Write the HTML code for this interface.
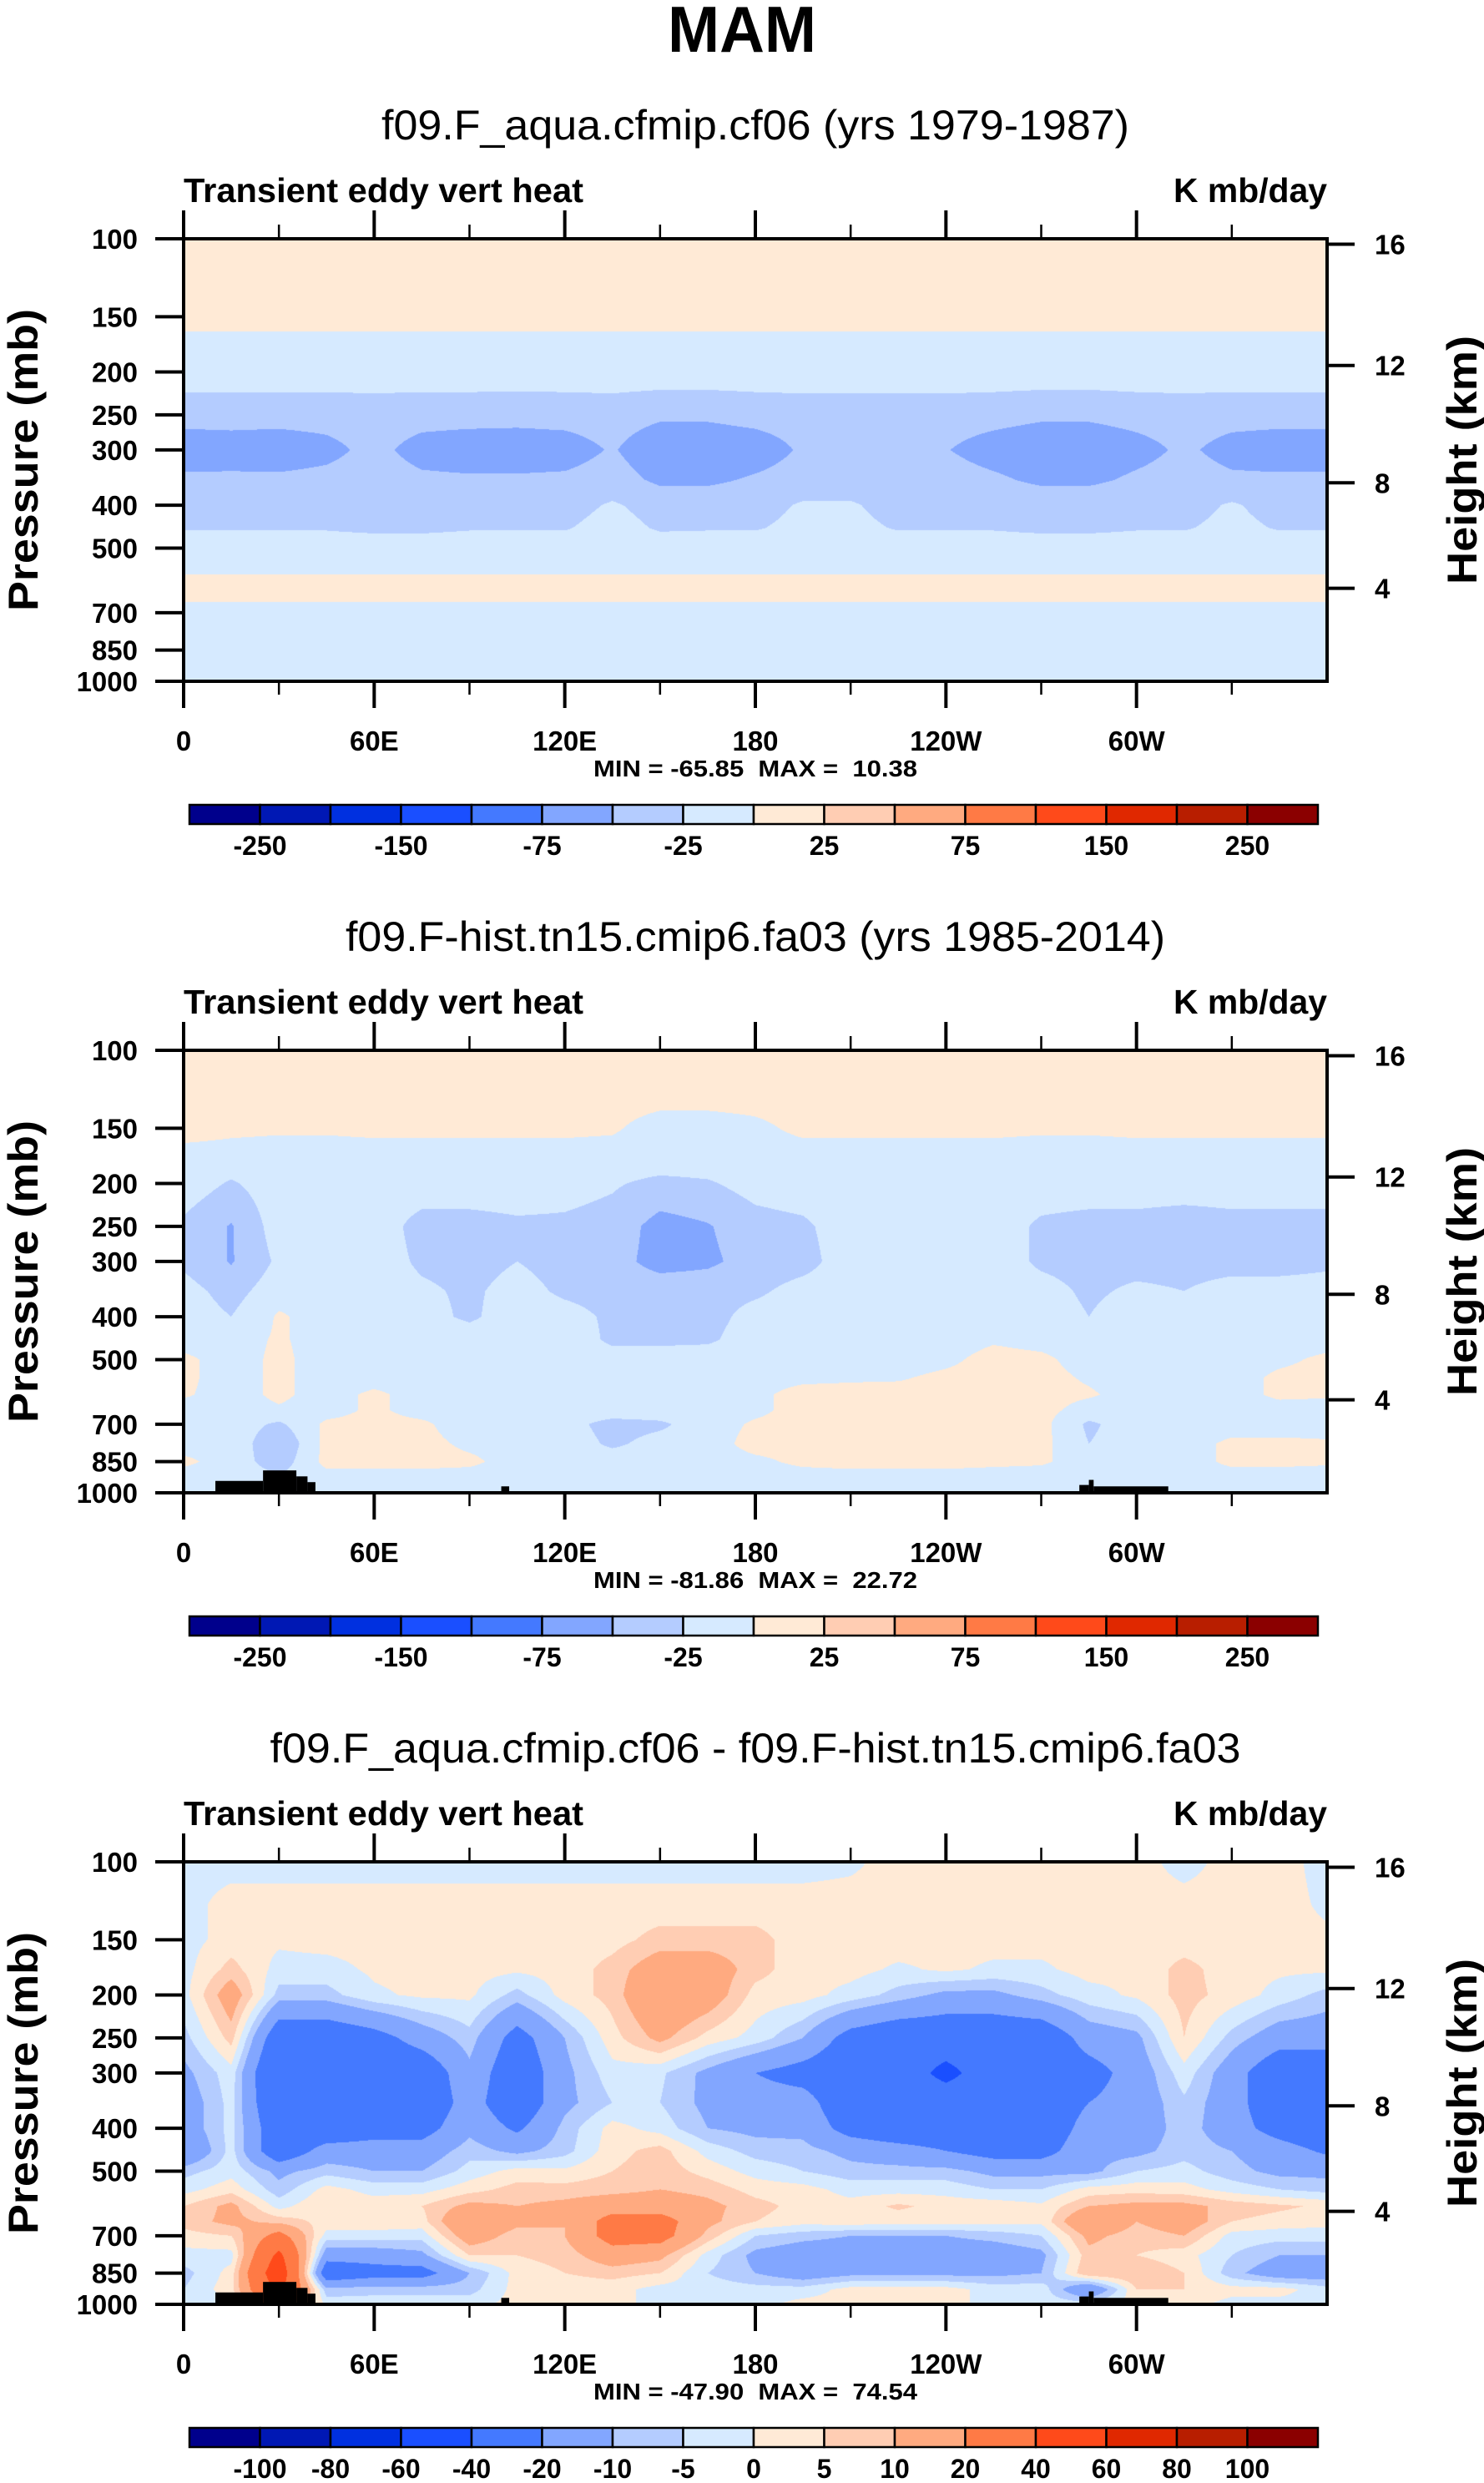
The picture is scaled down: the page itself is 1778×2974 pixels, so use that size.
<!DOCTYPE html>
<html><head><meta charset="utf-8">
<style>
html,body{margin:0;padding:0;background:#fff;}
#wrap{position:relative;width:1778px;height:2974px;overflow:hidden;background:#fff;}
canvas{position:absolute;}
svg{position:absolute;left:0;top:0;}
text{font-family:"Liberation Sans",sans-serif;fill:#000;}
</style></head>
<body>
<div id="wrap">
<canvas id="c0"></canvas>
<canvas id="c1"></canvas>
<canvas id="c2"></canvas>
<svg id="ov" width="1778" height="2974"></svg>
</div>
<script>
// ---------- data ----------
const pLevels = [100,125,150,175,200,250,300,350,400,450,500,550,600,650,700,775,850,925,1000];
const lonCols = [0,15,30,45,60,75,90,105,120,135,150,165,180,195,210,225,240,255,270,285,300,315,330,345,360];
const lonTickVals = [0,60,120,180,240,300];
const lonTickLabels = ["0","60E","120E","180","120W","60W"];
const lonMinorVals = [30,90,150,210,270,330];
const pTickVals = [100,150,200,250,300,400,500,700,850,1000];
const hTickVals = [4,8,12,16];
const levelsAbs = [-250,-200,-150,-100,-75,-50,-25,0,25,50,75,100,150,200,250];
const levelsDiff = [-100,-80,-60,-40,-20,-10,-5,0,5,10,20,40,60,80,100];
const cbLabelsAbs = ["-250","","-150","","-75","","-25","","25","","75","","150","","250"];
const cbLabelsDiff = ["-100","-80","-60","-40","-20","-10","-5","0","5","10","20","40","60","80","100"];
const palette = ["#00008c","#0018b4","#0030e0","#1a4fff","#4479ff","#82a6ff","#b4ccff","#d6eaff","#ffead6","#ffcdb3","#ffaa80","#ff7a45","#ff4a1a","#e02800","#b81e00","#8b0000"];
const titles = ["f09.F_aqua.cfmip.cf06 (yrs 1979-1987)","f09.F-hist.tn15.cmip6.fa03 (yrs 1985-2014)","f09.F_aqua.cfmip.cf06 - f09.F-hist.tn15.cmip6.fa03"];
const titleWidths = [896,982,1163];
const minMax = ["MIN = -65.85  MAX =  10.38","MIN = -81.86  MAX =  22.72","MIN = -47.90  MAX =  74.54"];
const terrainStart = [10,25,35.5,39,100,282,285,286.5];
const terrainEnd   = [25,35.5,39,41.5,102.5,285,286.5,310];
const terrainTop   = [940,890,918,946,967,960,935,967];

const field1 = [
[10,10,10,10,10,10,10,10,10,10,10,10,10,10,10,10,10,10,10,10,10,10,10,10,10],
[10,10,10,10,10,10,10,10,10,10,10,10,10,10,10,10,10,10,10,10,10,10,10,10,10],
[10,10,10,10,10,10,10,10,10,10,10,10,10,10,10,10,10,10,10,10,10,10,10,10,10],
[-10,-10,-10,-10,-10,-10,-10,-10,-10,-10,-10,-10,-10,-10,-10,-10,-10,-10,-10,-10,-10,-10,-10,-10,-10],
[-10,-10,-10,-10,-10,-10,-10,-10,-10,-10,-10,-10,-10,-10,-10,-10,-10,-10,-10,-10,-10,-10,-10,-10,-10],
[-42,-42,-42,-42,-40,-42,-42,-43,-42,-40,-46,-46,-42,-40,-40,-40,-40,-42,-46,-46,-42,-40,-42,-42,-42],
[-62,-60,-62,-56,-44,-58,-62,-62,-60,-48,-66,-66,-62,-47,-49,-47,-49,-60,-66,-66,-58,-46,-58,-62,-62],
[-46,-46,-46,-44,-40,-46,-47,-47,-46,-40,-55,-55,-47,-40,-40,-40,-40,-46,-55,-55,-46,-40,-46,-46,-46],
[-35,-35,-35,-35,-35,-35,-35,-35,-35,-22,-35,-35,-35,-22,-22,-35,-35,-35,-35,-35,-35,-35,-22,-35,-35],
[-27,-27,-27,-27,-30,-30,-27,-27,-27,-15,-28,-27,-27,-18,-18,-27,-27,-27,-30,-30,-27,-27,-18,-27,-27],
[-12,-12,-12,-12,-12,-12,-12,-12,-12,-12,-12,-12,-12,-12,-12,-12,-12,-12,-12,-12,-12,-12,-12,-12,-12],
[-5,-5,-5,-5,-5,-5,-5,-5,-5,-5,-5,-5,-5,-5,-5,-5,-5,-5,-5,-5,-5,-5,-5,-5,-5],
[5,5,5,5,5,5,5,5,5,5,5,5,5,5,5,5,5,5,5,5,5,5,5,5,5],
[3,3,3,3,3,3,3,3,3,3,3,3,3,3,3,3,3,3,3,3,3,3,3,3,3],
[-10,-10,-10,-10,-10,-10,-10,-10,-10,-10,-10,-10,-10,-10,-10,-10,-10,-10,-10,-10,-10,-10,-10,-10,-10],
[-10,-10,-10,-10,-10,-10,-10,-10,-10,-10,-10,-10,-10,-10,-10,-10,-10,-10,-10,-10,-10,-10,-10,-10,-10],
[-10,-10,-10,-10,-10,-10,-10,-10,-10,-10,-10,-10,-10,-10,-10,-10,-10,-10,-10,-10,-10,-10,-10,-10,-10],
[-10,-10,-10,-10,-10,-10,-10,-10,-10,-10,-10,-10,-10,-10,-10,-10,-10,-10,-10,-10,-10,-10,-10,-10,-10],
[-10,-10,-10,-10,-10,-10,-10,-10,-10,-10,-10,-10,-10,-10,-10,-10,-10,-10,-10,-10,-10,-10,-10,-10,-10]
];
const field2 = [
[10,10,10,10,10,10,10,10,10,10,10,10,10,10,10,10,10,10,10,10,10,10,10,10,10],
[10,10,10,10,10,10,10,10,10,10,10,10,10,10,10,10,10,10,10,10,10,10,10,10,10],
[10,5,3,3,5,5,5,5,5,3,-10,-10,-5,5,5,5,5,5,3,3,5,5,5,5,5],
[-10,-10,-10,-10,-10,-10,-10,-10,-10,-10,-10,-10,-10,-10,-10,-10,-10,-10,-10,-10,-10,-10,-10,-10,-10],
[-10,-28,-10,-10,-10,-10,-10,-10,-15,-22,-32,-28,-15,-10,-10,-10,-10,-10,-10,-10,-10,-10,-10,-10,-10],
[-30,-52,-12,-10,-10,-35,-35,-30,-30,-35,-60,-52,-35,-30,-10,-10,-10,-10,-30,-35,-35,-40,-35,-35,-35],
[-30,-52,-20,-10,-10,-30,-35,-25,-35,-40,-60,-55,-40,-35,-10,-10,-10,-10,-30,-35,-35,-35,-35,-35,-30],
[-15,-35,-10,-10,-10,-20,-30,-15,-30,-35,-35,-35,-30,-15,-10,-10,-10,-10,-15,-30,-20,-25,-15,-15,-15],
[-10,-25,3,-10,-10,-15,-30,-10,-15,-30,-35,-35,-15,-10,-10,-10,-10,-10,-10,-25,-10,-10,-10,-10,-10],
[-10,-10,3,-10,-10,-10,-10,-10,-10,-30,-30,-30,-10,-10,-10,-10,-10,-3,-8,-10,-10,-10,-10,-10,-10],
[5,-10,5,-10,-10,-10,-10,-10,-10,-15,-15,-10,-10,-10,-10,-10,-5,8,5,-10,-10,-10,-10,-5,5],
[5,-10,5,-10,-10,-10,-10,-10,-10,-10,-10,-10,-8,-5,-3,-2,5,8,8,-3,-10,-10,-10,5,8],
[3,-10,5,-10,5,-10,-10,-10,-10,-10,-10,-10,-5,8,8,8,8,8,8,3,-10,-10,-10,5,3],
[-10,-10,-3,-10,5,-10,-10,-10,-10,-10,-10,-10,-5,8,8,8,8,8,8,-10,-10,-10,-10,-10,-10],
[-10,-10,-30,5,8,5,-15,-10,-15,-35,-30,-10,3,8,8,8,8,8,8,-30,-10,-15,-10,-10,-10],
[-10,-5,-50,8,8,8,-5,-10,-10,-30,-15,-10,8,8,8,8,8,8,8,-25,-10,-10,5,5,3],
[5,-10,-40,8,8,8,5,-10,-10,-10,-10,-10,-5,5,8,8,8,5,3,-10,-25,-10,5,5,3],
[-10,-10,-20,-10,-10,-10,-10,-10,-10,-10,-10,-10,-10,-10,-10,-10,-10,-10,-10,-10,-10,-10,-10,-10,-10],
[-10,-10,-10,-10,-10,-10,-10,-10,-10,-10,-10,-10,-10,-10,-10,-10,-10,-10,-10,-10,-10,-10,-10,-10,-10]
];
const field3 = [
[-2,-2,-2,-2,-2,-2,-2,-2,-2,-2,-2,-2,-2,-2,-1,2,2,2,2,2,2,-2,2,2,-2],
[-2,2,2,2,2,2,2,2,2,2,2,2,2,2,2,2,2,2,2,2,2,2,2,2,-1],
[-2,2,1,2,2,2,2,2,2,3,7,7,7,2,2,3,2,2,2,2,2,2,2,2,1],
[-2,7,-2,-2,1,2,2,1,2,7,15,15,7,2,2,-1,1,-1,-1,2,1,7,2,1,1],
[-2,15,-7,-7,-1,1,1,-7,2,7,20,15,3,2,-2,-7,-12,-12,-7,-2,1,7,3,-2,-7],
[-7,7,-30,-30,-25,-15,-7,-25,-10,3,12,3,-2,-10,-25,-30,-30,-30,-30,-15,-12,5,-7,-15,-15],
[-12,-2,-38,-30,-30,-30,-12,-30,-12,-2,-4,-12,-20,-25,-30,-30,-45,-30,-30,-25,-15,-2,-15,-30,-30],
[-15,-3,-35,-30,-30,-30,-15,-30,-12,-5,-5,-12,-15,-15,-30,-30,-30,-30,-30,-20,-15,-6,-15,-30,-30],
[-15,-3,-30,-30,-25,-25,-12,-22,-8,2,-2,-10,-12,-12,-25,-30,-30,-30,-30,-15,-15,-7,-15,-25,-30],
[-20,-3,-30,-15,-15,-15,-7,-12,-7,3,7,-2,-7,-8,-12,-15,-20,-25,-25,-12,-12,-7,-10,-15,-22],
[-7,-2,-12,-7,-10,-10,-3,2,1,5,8,3,-2,-5,-8,-8,-8,-12,-12,-12,-5,-3,-8,-12,-12],
[-2,3,-8,2,-2,-2,3,7,7,8,10,8,3,2,-2,-2,-2,-5,-5,2,3,2,-2,-5,-7],
[5,12,-2,5,3,5,12,10,12,15,15,12,7,3,2,6,3,3,1,10,12,12,8,6,4],
[7,12,8,3,3,3,20,12,10,25,25,12,5,2,3,2,2,2,1,20,10,15,5,3,2],
[3,5,25,-2,-2,-3,15,7,10,25,25,8,-5,-8,-10,-10,-10,-8,-5,12,7,10,-2,-3,-3],
[-2,-2,45,-15,-15,-12,5,5,7,15,12,-2,-12,-15,-15,-15,-15,-15,-12,8,5,2,-5,-10,-10],
[-7,2,55,-30,-25,-25,-10,2,5,7,5,-5,-10,-15,-12,-12,-12,-12,-10,10,10,5,-8,-15,-15],
[-5,3,45,-8,-7,-7,-7,2,2,2,-2,-2,-3,-3,2,2,2,-2,-2,-20,5,5,2,2,-3],
[-2,-2,30,-2,-2,-2,-2,2,2,2,-2,-2,-2,2,2,2,2,-2,-2,-2,2,2,-2,-2,-2]
];
const fields = [field1, field2, field3];
const fieldLevels = [levelsAbs, levelsAbs, levelsDiff];
const cbLabels = [cbLabelsAbs, cbLabelsAbs, cbLabelsDiff];
const hasTerrain = [false, true, true];

// ---------- geometry ----------
const PX0 = 220, PX1 = 1590, PY0 = 286, PY1 = 816, PANEL_DY = 972;
const PW = PX1 - PX0, PH = PY1 - PY0;
function xOf(lon){ return PX0 + lon/360*PW; }
function yOf(p, k){ return PY0 + k*PANEL_DY + (Math.log10(p) - 2) * PH; }
function pOfHeight(km){
  const z = km*1000;
  if (z <= 11000) return 1013.25*Math.pow(1-2.25577e-5*z, 5.25588);
  return 226.32*Math.exp(-(z-11000)/6341.6);
}
function hexToRgb(h){ return [parseInt(h.substr(1,2),16),parseInt(h.substr(3,2),16),parseInt(h.substr(5,2),16)]; }
const palRgb = palette.map(hexToRgb);
const logP = pLevels.map(p=>Math.log10(p));

function sample(field, lon, lp){
  let j = Math.floor(lon/15); if (j>23) j=23; if (j<0) j=0;
  const fx = (lon - lonCols[j])/15;
  let i = 0; while (i < logP.length-2 && lp > logP[i+1]) i++;
  const fy = Math.min(1, Math.max(0, (lp - logP[i])/(logP[i+1]-logP[i])));
  const a = field[i][j], b = field[i][j+1], c = field[i+1][j], d = field[i+1][j+1];
  return (a*(1-fx)+b*fx)*(1-fy) + (c*(1-fx)+d*fx)*fy;
}
function classify(v, lev){ let n=0; for (const l of lev) if (v>=l) n++; return n; }

// ---------- draw fields ----------
for (let k=0;k<3;k++){
  const cv = document.getElementById('c'+k);
  cv.width = PW; cv.height = PH;
  cv.style.left = PX0+'px'; cv.style.top = (PY0+k*PANEL_DY)+'px';
  const ctx = cv.getContext('2d');
  const img = ctx.createImageData(PW, PH);
  const f = fields[k], lev = fieldLevels[k];
  for (let y=0;y<PH;y++){
    const lp = 2 + (y+0.5)/PH;
    for (let x=0;x<PW;x++){
      const lon = (x+0.5)/PW*360;
      const c = palRgb[classify(sample(f, lon, lp), lev)];
      const o = (y*PW+x)*4;
      img.data[o]=c[0]; img.data[o+1]=c[1]; img.data[o+2]=c[2]; img.data[o+3]=255;
    }
  }
  ctx.putImageData(img,0,0);
}

// ---------- overlay ----------
const NS = "http://www.w3.org/2000/svg";
const ov = document.getElementById('ov');
function el(tag, attrs, parent){
  const e = document.createElementNS(NS, tag);
  for (const k in attrs) e.setAttribute(k, attrs[k]);
  (parent||ov).appendChild(e); return e;
}
function txt(str, attrs, parent){ const t = el('text', attrs, parent); t.textContent = str; return t; }

const mainT = txt("MAM", {x:889, y:62, 'font-size':78, 'font-weight':'bold', 'text-anchor':'middle', textLength:178, lengthAdjust:'spacingAndGlyphs'});



for (let k=0;k<3;k++){
  const T = PY0 + k*PANEL_DY;
  const g = el('g', {});
  
  

  const st = txt(titles[k], {x:905, y:T-119, 'font-size':50, 'text-anchor':'middle', textLength:titleWidths[k], lengthAdjust:'spacingAndGlyphs'}, g);
  
  
  const lt = txt("Transient eddy vert heat", {x:PX0, y:T-44, 'font-size':41, 'font-weight':'bold', textLength:479, lengthAdjust:'spacingAndGlyphs'}, g);
  
  
  const ut = txt("K mb/day", {x:PX1, y:T-44, 'font-size':41, 'font-weight':'bold', 'text-anchor':'end', textLength:184, lengthAdjust:'spacingAndGlyphs'}, g);
  
  

  if (hasTerrain[k]){
    for (let s=0;s<terrainStart.length;s++){
      const x0 = xOf(terrainStart[s]), x1 = xOf(terrainEnd[s]);
      const yt = yOf(terrainTop[s], k);
      const r = el('rect', {x:x0, y:yt, width:x1-x0, height:(T+PH)-yt, fill:'#000'}, g);
      
      
    }
  }

  const fr = el('rect', {x:PX0, y:T, width:PW, height:PH, fill:'none', stroke:'#000', 'stroke-width':4}, g);
  
  

  lonTickVals.forEach((lon,i)=>{
    const x = xOf(lon);
    el('line', {x1:x, x2:x, y1:T, y2:T-34, stroke:'#000', 'stroke-width':4}, g);
    el('line', {x1:x, x2:x, y1:T+PH, y2:T+PH+32, stroke:'#000', 'stroke-width':4}, g);
    const lb = txt(lonTickLabels[i], {x:x, y:T+613, 'font-size':33, 'font-weight':'bold', 'text-anchor':'middle'}, g);
    
    
  });
  lonMinorVals.forEach(lon=>{
    const x = xOf(lon);
    el('line', {x1:x, x2:x, y1:T, y2:T-17, stroke:'#000', 'stroke-width':2.5}, g);
    el('line', {x1:x, x2:x, y1:T+PH, y2:T+PH+16, stroke:'#000', 'stroke-width':2.5}, g);
  });
  pTickVals.forEach(p=>{
    const y = yOf(p,k);
    el('line', {x1:PX0, x2:PX0-34, y1:y, y2:y, stroke:'#000', 'stroke-width':4}, g);
    const lb = txt(String(p), {x:165, y:y+12, 'font-size':33, 'font-weight':'bold', 'text-anchor':'end'}, g);
    
    
  });
  hTickVals.forEach(h=>{
    const y = yOf(pOfHeight(h),k);
    el('line', {x1:PX1, x2:PX1+33, y1:y, y2:y, stroke:'#000', 'stroke-width':4}, g);
    const lb = txt(String(h), {x:1647, y:y+12, 'font-size':33, 'font-weight':'bold'}, g);
    
    
  });
  const cy = T + PH/2;
  const yt1 = txt("Pressure (mb)", {x:0, y:0, 'font-size':50, 'font-weight':'bold', 'text-anchor':'middle', transform:`translate(45,${cy}) rotate(-90)`, textLength:362, lengthAdjust:'spacingAndGlyphs'}, g);
  
  
  const yt2 = txt("Height (km)", {x:0, y:0, 'font-size':50, 'font-weight':'bold', 'text-anchor':'middle', transform:`translate(1769,${cy}) rotate(-90)`, textLength:298, lengthAdjust:'spacingAndGlyphs'}, g);
  
  

  const mm = txt(minMax[k], {x:905, y:T+644, 'font-size':28, 'font-weight':'bold', 'text-anchor':'middle', textLength:388, lengthAdjust:'spacingAndGlyphs', style:'white-space:pre'}, g);
  
  

  const cbx0 = 227, cbx1 = 1579, cby = T + 678, cbh = 23;
  const bw = (cbx1-cbx0)/palette.length;
  const cbg = el('g', {}, g);
  
  
  palette.forEach((c,i)=>{
    const r = el('rect', {x:cbx0+i*bw, y:cby, width:bw, height:cbh, fill:c, stroke:'#000', 'stroke-width':2.5}, cbg);
    
    
  });
  cbLabels[k].forEach((s,i)=>{
    if (!s) return;
    const lb = txt(s, {x:cbx0+(i+1)*bw, y:T+738, 'font-size':32, 'font-weight':'bold', 'text-anchor':'middle'}, cbg);
    
    
  });
}
</script>
</body></html>
